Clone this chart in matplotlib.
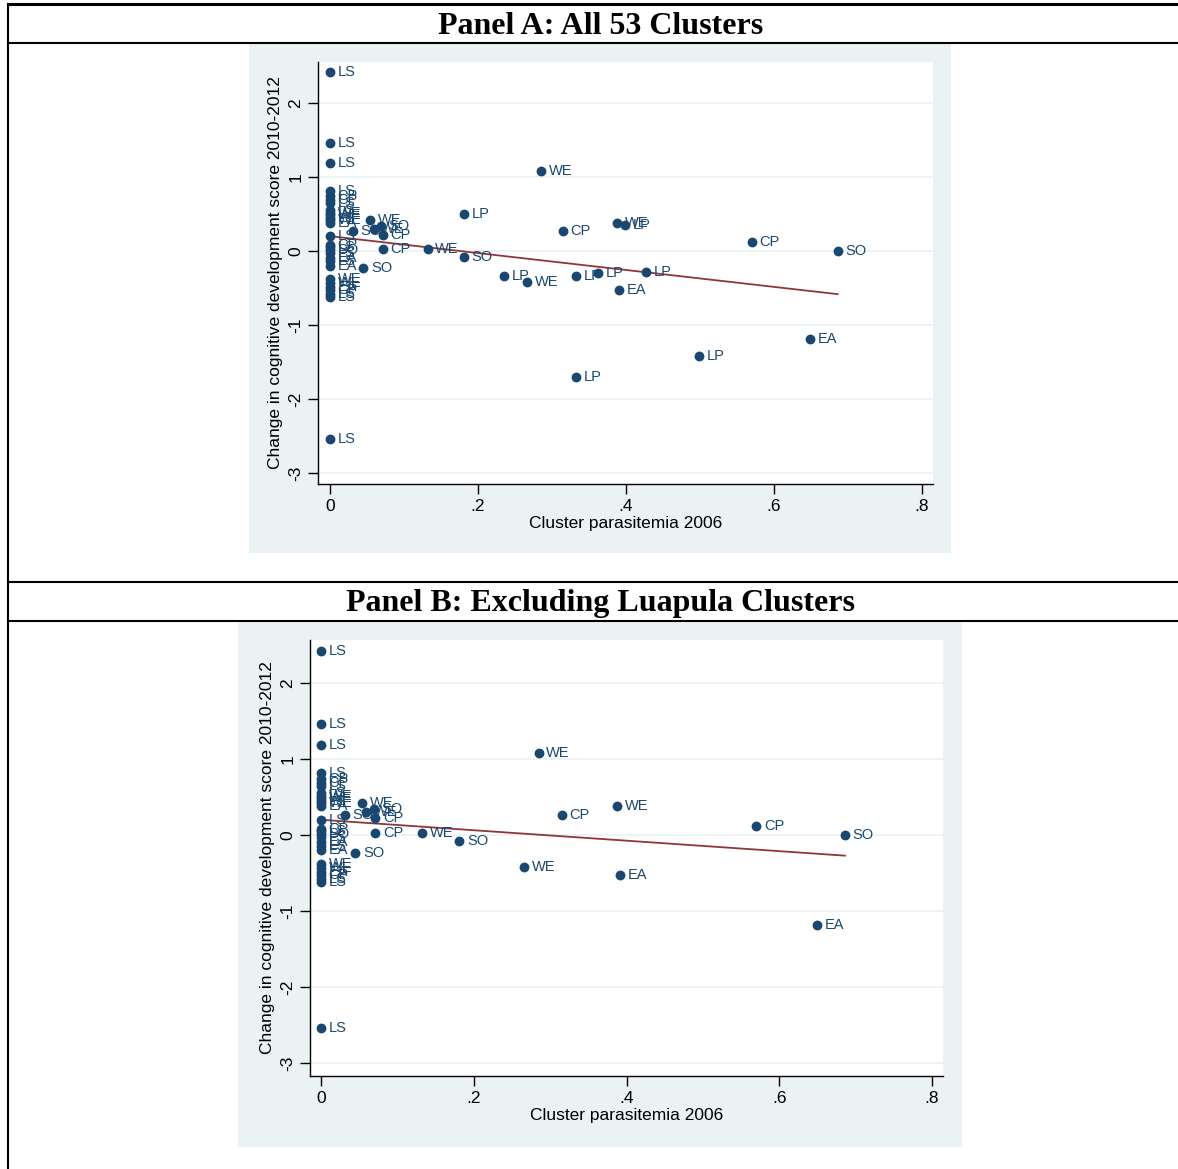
import numpy as np
import matplotlib
matplotlib.use("Agg")
import matplotlib.pyplot as plt
from matplotlib.patches import Rectangle
from matplotlib.lines import Line2D

# cluster parasitemia 2006 (x), change in cognitive score (y), province label
parasitemia = [
    0, 0, 0, 0, 0, 0, 0, 0, 0, 0, 0, 0, 0, 0,
    0, 0, 0, 0, 0, 0, 0, 0, 0, 0, 0, 0, 0, 0,
    0.031, 0.054, 0.059, 0.069, 0.071, 0.071, 0.045, 0.132, 0.181, 0.181,
    0.285, 0.315, 0.388, 0.399, 0.235, 0.266, 0.332, 0.362, 0.427, 0.391,
    0.570, 0.686, 0.649, 0.499, 0.332,
]
score_change = [
    2.42, 1.46, 1.19, 0.81, 0.74, 0.69, 0.65, 0.55, 0.52, 0.49, 0.45, 0.42, 0.38, 0.20,
    0.08, 0.05, 0.02, -0.03, -0.09, -0.14, -0.20, -0.38, -0.43, -0.48, -0.53, -0.58, -0.62, -2.54,
    0.27, 0.42, 0.30, 0.34, 0.22, 0.03, -0.23, 0.03, -0.08, 0.50,
    1.08, 0.27, 0.38, 0.35, -0.34, -0.42, -0.34, -0.30, -0.28, -0.53,
    0.12, 0.00, -1.19, -1.42, -1.70,
]
province = [
    "LS", "LS", "LS", "LS", "CP", "CP", "LS", "LS", "WE", "WE", "LS", "WE", "EA", "LS",
    "CP", "LS", "SO", "LS", "EA", "LS", "EA", "WE", "WE", "EA", "CP", "LS", "LS", "LS",
    "SO", "WE", "WE", "SO", "CP", "CP", "SO", "WE", "SO", "LP",
    "WE", "CP", "WE", "LP", "LP", "WE", "LP", "LP", "LP", "EA",
    "CP", "SO", "EA", "LP", "LP",
]

x_ticks = [0, 0.2, 0.4, 0.6, 0.8]
x_ticklabels = ["0", ".2", ".4", ".6", ".8"]
y_ticks = [-3, -2, -1, 0, 1, 2]

W, H = 1178, 1169
NAVY = "#1a476f"
MAROON = "#90353b"
BG = "#eaf2f3"

fig = plt.figure(figsize=(W / 100, H / 100), dpi=100)
fig.patch.set_facecolor("white")


def frac(x0, y0, x1, y1):
    # pixel box (top-left origin) -> figure fraction [l, b, w, h]
    return [x0 / W, 1 - y1 / H, (x1 - x0) / W, (y1 - y0) / H]


def hline(y, lw):
    fig.add_artist(Line2D([8 / W, 1], [1 - y / H, 1 - y / H], color="black", lw=lw))


def panel(title, title_y, bg_box, ax_box, xlim, ylim, keep):
    x = np.array(parasitemia)
    y = np.array(score_change)
    lab = np.array(province)
    x, y, lab = x[keep], y[keep], lab[keep]

    l, b, w, h = frac(*bg_box)
    fig.add_artist(Rectangle((l, b), w, h, transform=fig.transFigure,
                             facecolor=BG, edgecolor="none", zorder=0))
    fig.text(600.5 / W, 1 - title_y / H, title, ha="center", va="center",
             family="Liberation Serif", weight="bold", fontsize=23)

    ax = fig.add_axes(frac(*ax_box))
    ax.set_facecolor("white")
    ax.set_xlim(*xlim)
    ax.set_ylim(*ylim)
    for s in ["top", "right"]:
        ax.spines[s].set_visible(False)
    for s in ["left", "bottom"]:
        ax.spines[s].set_color("black")
        ax.spines[s].set_linewidth(1.0)
    ax.set_xticks(x_ticks)
    ax.set_xticklabels(x_ticklabels)
    ax.set_yticks(y_ticks)
    ax.set_yticklabels([str(t) for t in y_ticks], rotation=90, va="center")
    ax.tick_params(labelsize=12.5, length=7, width=1, color="black")
    for t in ax.get_xticklabels() + ax.get_yticklabels():
        t.set_family("Liberation Sans")
    ax.grid(axis="y", color=BG, lw=1.2)
    ax.set_axisbelow(True)

    ax.scatter(x, y, s=50, color=NAVY, zorder=3, linewidths=0)
    for xi, yi, li in zip(x, y, lab):
        ax.annotate(li, (xi, yi), xytext=(5.5, 0), textcoords="offset points",
                    ha="left", va="center", fontsize=10.5, color=NAVY,
                    family="Liberation Sans", zorder=4, annotation_clip=False)

    # linear fit over the observed range
    slope, icpt = np.polyfit(x, y, 1)
    xs = np.array([x.min(), x.max()])
    ax.plot(xs, icpt + slope * xs, color=MAROON, lw=1.3, zorder=2)

    ax.set_xlabel("Cluster parasitemia 2006", fontsize=12.5, family="Liberation Sans", labelpad=2)
    ax.set_ylabel("Change in cognitive development score 2010-2012", fontsize=12.5,
                  family="Liberation Sans", labelpad=4)
    return ax


# table frame
hline(4, 2.2)
hline(43, 1.5)
hline(582, 1.5)
hline(621, 1.5)
fig.add_artist(Line2D([8 / W, 8 / W], [0, 1 - 4 / H], color="black", lw=1.5))

all_idx = np.ones(len(province), dtype=bool)
no_lp = np.array([p != "LP" for p in province])

panel("Panel A: All 53 Clusters", 26, (249, 44, 951, 553), (318, 62, 933, 484),
      (-0.0162, 0.8149), (-3.149, 2.554), all_idx)
panel("Panel B: Excluding Luapula Clusters", 604, (238, 622, 962, 1147), (310, 640, 943, 1076),
      (-0.0144, 0.8144), (-3.17, 2.566), no_lp)

fig.savefig("out.png", dpi=100)
